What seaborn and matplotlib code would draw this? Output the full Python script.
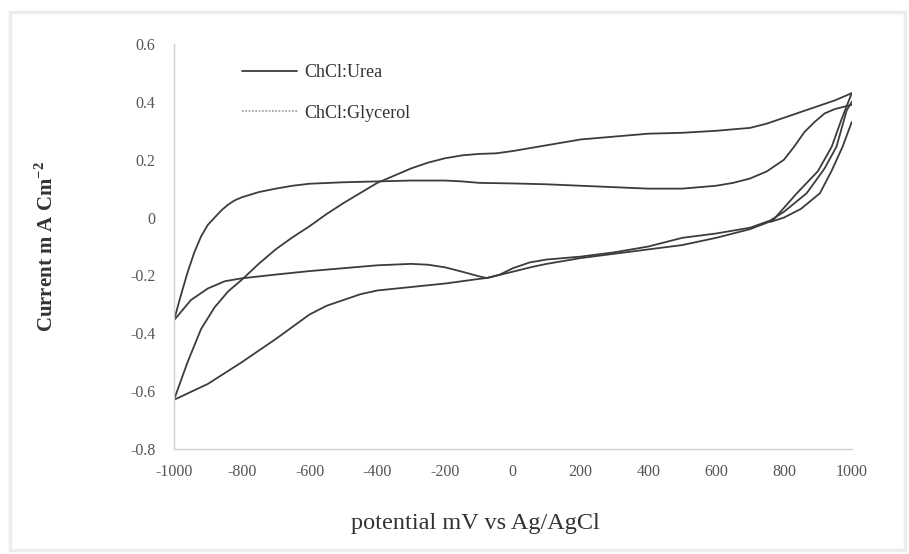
import matplotlib
matplotlib.use("Agg")
import matplotlib.pyplot as plt
import seaborn as sns
import pandas as pd
from matplotlib.lines import Line2D
from matplotlib.patches import Rectangle

# ---- data ----
urea_fwd_x = [-1000, -960, -920, -880, -840, -800, -750, -700, -650, -600, -550, -500, -450, -400,
              -350, -300, -250, -200, -150, -100, -50, 0, 100, 200, 300, 400, 500, 600, 700, 750,
              800, 850, 900, 950, 1000]
urea_fwd_y = [-0.63, -0.50, -0.385, -0.31, -0.255, -0.215, -0.16, -0.11, -0.068, -0.03, 0.012, 0.05,
              0.085, 0.12, 0.145, 0.17, 0.19, 0.205, 0.215, 0.22, 0.222, 0.23, 0.25, 0.27, 0.28,
              0.29, 0.293, 0.30, 0.31, 0.325, 0.345, 0.365, 0.385, 0.405, 0.43]
urea_rev_x = [1000, 970, 941, 900, 838, 767, 700, 600, 500, 400, 300, 200, 100, 59, 0, -77, -100,
              -200, -300, -400, -450, -500, -550, -600, -700, -800, -900, -1000]
urea_rev_y = [0.43, 0.34, 0.245, 0.16, 0.084, -0.01, -0.04, -0.07, -0.095, -0.11, -0.125, -0.14,
              -0.16, -0.17, -0.187, -0.209, -0.212, -0.228, -0.24, -0.252, -0.265, -0.285, -0.305,
              -0.335, -0.42, -0.50, -0.575, -0.63]
urea_start_x = [1000, 973, 940, 906, 850, 800, 760]
urea_start_y = [0.33, 0.245, 0.16, 0.084, 0.03, 0.0, -0.015]

glyc_fwd_x = [-1000, -980, -960, -940, -920, -900, -880, -860, -840, -820, -800, -750, -700, -650,
              -600, -500, -400, -300, -200, -150, -100, 0, 100, 200, 300, 400, 500, 600, 650, 700,
              750, 800, 830, 860, 890, 920, 950, 1000]
glyc_fwd_y = [-0.355, -0.27, -0.19, -0.12, -0.065, -0.025, 0.0, 0.025, 0.045, 0.06, 0.07, 0.088,
              0.10, 0.11, 0.117, 0.122, 0.125, 0.128, 0.128, 0.125, 0.12, 0.118, 0.115, 0.11, 0.105,
              0.10, 0.10, 0.11, 0.12, 0.135, 0.16, 0.20, 0.245, 0.295, 0.33, 0.36, 0.375, 0.39]
glyc_rev_x = [1000, 985, 955, 920, 867, 800, 760, 700, 600, 500, 400, 300, 200, 100, 50, 0, -40,
              -77, -100, -150, -200, -250, -300, -400, -500, -600, -700, -800, -850, -900, -950,
              -1000]
glyc_rev_y = [0.40, 0.37, 0.245, 0.17, 0.084, 0.02, -0.01, -0.035, -0.055, -0.07, -0.10, -0.12,
              -0.135, -0.145, -0.155, -0.175, -0.198, -0.209, -0.203, -0.187, -0.172, -0.163,
              -0.16, -0.165, -0.175, -0.185, -0.197, -0.21, -0.22, -0.245, -0.285, -0.355]

series_names = ["ChCl:Urea", "ChCl:Glycerol"]
x_ticks = [-1000, -800, -600, -400, -200, 0, 200, 400, 600, 800, 1000]
x_tick_labels = ["-1000", "-800", "-600", "-400", "-200", "0", "200", "400", "600", "800", "1000"]
y_ticks = [0.6, 0.4, 0.2, 0, -0.2, -0.4, -0.6, -0.8]
y_tick_labels = ["0.6", "0.4", "0.2", "0", "-0.2", "-0.4", "-0.6", "-0.8"]

# ---- build table ----
rows = []
branches = [
    (series_names[0], "u_fwd", urea_fwd_x, urea_fwd_y),
    (series_names[0], "u_rev", urea_rev_x, urea_rev_y),
    (series_names[0], "u_start", urea_start_x, urea_start_y),
    (series_names[1], "g_fwd", glyc_fwd_x, glyc_fwd_y),
    (series_names[1], "g_rev", glyc_rev_x, glyc_rev_y),
]
for s, b, xs, ys in branches:
    for i, (xv, yv) in enumerate(zip(xs, ys)):
        rows.append({"series": s, "branch": b, "order": i, "potential": xv, "current": yv})
df = pd.DataFrame(rows)

sns.set_theme(style="white")
plt.rcParams["font.family"] = ["Liberation Serif", "DejaVu Serif"]
plt.rcParams["mathtext.fontset"] = "custom"
plt.rcParams["mathtext.rm"] = "Liberation Serif"
plt.rcParams["mathtext.bf"] = "Liberation Serif:bold"

fig = plt.figure(figsize=(9.09, 5.54), dpi=100)
ax = fig.add_axes([0.1914, 0.1895, 0.7456, 0.7311])

line_color = "#3c3c3c"
for b in df["branch"].unique():
    sub = df[df["branch"] == b]
    sns.lineplot(data=sub, x="potential", y="current", sort=False, estimator=None,
                 color=line_color, linewidth=1.3, ax=ax, legend=False)

ax.set_xlim(-1000, 1000)
ax.set_ylim(-0.8, 0.6)
ax.set_xticks(x_ticks)
ax.set_xticklabels(x_tick_labels)
ax.set_yticks(y_ticks)
ax.set_yticklabels(y_tick_labels)
ax.tick_params(axis="both", length=0, labelsize=11.5, labelcolor="#555555")
ax.tick_params(axis="x", pad=11)
ax.tick_params(axis="y", pad=13.5)

for sp in ["top", "right"]:
    ax.spines[sp].set_visible(False)
for sp in ["left", "bottom"]:
    ax.spines[sp].set_color("#d0d0d0")
    ax.spines[sp].set_linewidth(1.0)

ax.set_xlabel("potential mV vs Ag/AgCl", fontsize=17.5, color="#333333")
ax.xaxis.set_label_coords(0.445, -0.158)
ax.set_ylabel(r"Current m A Cm$^{\mathbf{-2}}$", fontsize=15, fontweight="bold",
              color="#333333")
ax.yaxis.set_label_coords(-0.172, 0.5)

handles = [Line2D([0], [0], color="#3c3c3c", lw=1.3, linestyle="-"),
           Line2D([0], [0], color="#9a9a9a", lw=1.2, linestyle=(0, (1, 1)))]
ax.legend(handles, series_names, loc="upper left", bbox_to_anchor=(0.077, 0.99),
          frameon=False, fontsize=13, labelspacing=1.3, handlelength=3.0,
          handletextpad=0.4, labelcolor="#333333")

fig.patches.append(Rectangle((0.011, 0.008), 0.985, 0.97, transform=fig.transFigure,
                             fill=False, edgecolor="#ececec", linewidth=2.5))

fig.savefig("out.png", dpi=100)
